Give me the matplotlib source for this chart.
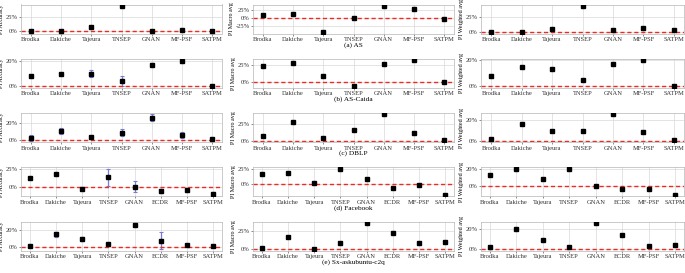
import numpy as np
import matplotlib
matplotlib.use("Agg")
import matplotlib.pyplot as plt
from matplotlib.ticker import MultipleLocator, FuncFormatter

plt.rcParams['font.family'] = ['Liberation Serif', 'DejaVu Serif']

# methods per dataset
cats7 = ["Brodka", "Dakiche", "Tajeura", "TNSEP", "GNAN", "MF-PSF", "SATPM"]
cats8 = ["Brodka", "Dakiche", "Tajeura", "TNSEP", "GNAN", "ECDR", "MF-PSF", "SATPM"]
datasets = ["(a) AS", "(b) AS-Caida", "(c) DBLP", "(d) Facebook", "(e) Sx-askubuntu-c2q"]
metrics = ["PI Accuracy", "PI Macro avg", "PI Weighted avg"]

# (a) AS
as_acc = [0.0, 0.5, 7.6, 45.0, 1.0, 2.0, 0.0]
as_acc_err = [0.5, 0.5, 0.8, 0.8, 0.5, 0.8, 1.5]
as_macro = [8.6, 10.6, -44.0, 0.0, 36.5, 26.0, -3.0]
as_weighted = [0.0, -0.5, 5.0, 45.0, 2.8, 7.0, 4.0]

# (b) AS-Caida
caida_acc = [8.0, 9.5, 10.0, 4.0, 17.0, 19.5, 0.3]
caida_acc_err = [1.0, 1.0, 2.5, 4.0, 1.0, 1.0, 0.4]
caida_macro = [23.0, 28.0, 9.2, -5.7, 26.0, 32.0, 0.5]
caida_weighted = [7.8, 15.0, 13.0, 5.0, 17.2, 19.8, 0.5]

# (c) DBLP
dblp_acc = [2.0, 10.6, 3.0, 8.0, 26.0, 5.5, 0.5]
dblp_acc_err = [3.5, 3.5, 0.5, 4.0, 4.0, 4.0, 0.3]
dblp_macro = [7.5, 27.6, 4.4, 15.4, 38.6, 11.8, 1.0]
dblp_weighted = [1.8, 16.5, 9.7, 9.7, 25.3, 8.8, 0.5]

# (d) Facebook
fb_acc = [12.3, 18.8, -2.6, 13.6, 0.5, -5.7, -4.0, -9.6]
fb_acc_err = [0.5, 0.5, 2.0, 12.0, 8.0, 2.5, 3.0, 2.0]
fb_macro = [16.8, 18.4, 2.0, 25.6, 8.7, -7.0, -2.0, -18.0]
fb_weighted = [13.0, 20.8, 8.0, 20.3, 0.0, -4.0, -3.5, -11.5]

# (e) Sx-askubuntu-c2q
sx_acc = [1.5, 15.0, 9.0, 3.0, 26.0, 7.0, 2.0, 1.0]
sx_acc_err = [0.8, 3.0, 2.0, 1.0, 2.0, 10.0, 1.0, 1.0]
sx_macro = [2.0, 16.0, 0.5, 8.0, 35.0, 22.0, 9.0, 10.0]
sx_weighted = [2.0, 20.0, 9.0, 2.0, 26.0, 14.0, 3.0, 4.0]

rows = [
    (cats7, as_acc, as_acc_err, as_macro, as_weighted, [25, 25, 25]),
    (cats7, caida_acc, caida_acc_err, caida_macro, caida_weighted, [20, 25, 20]),
    (cats7, dblp_acc, dblp_acc_err, dblp_macro, dblp_weighted, [20, 25, 20]),
    (cats8, fb_acc, fb_acc_err, fb_macro, fb_weighted, [25, 25, 20]),
    (cats8, sx_acc, sx_acc_err, sx_macro, sx_weighted, [20, 25, 20]),
]

W, H = 685, 273
fig = plt.figure(figsize=(W / 100, H / 100), dpi=100)

col_px = [(21, 222), (253, 454), (481, 684)]
pct = FuncFormatter(lambda v, p: "%d%%" % round(v))

for r, (cats, acc, acc_err, macro, weighted, steps) in enumerate(rows):
    top = 4.5 + 54.3 * r
    bot = 33.5 + 54.3 * r
    x = np.arange(len(cats))
    series = [(acc, acc_err), (macro, None), (weighted, None)]
    for c, (vals, err) in enumerate(series):
        x0, x1 = col_px[c]
        ax = fig.add_axes([x0 / W, 1 - bot / H, (x1 - x0) / W, (bot - top) / H])
        if err is not None:
            ax.errorbar(x, vals, yerr=err, fmt="none", ecolor="#7a7ad8",
                         elinewidth=0.9, capsize=1.6, capthick=0.8, zorder=2)
        ax.axhline(0, color="#ee2a22", lw=1.0, ls=(0, (3, 2)), zorder=2.5)
        ax.plot(x, vals, "s", color="black", ms=2.2, zorder=3)
        ax.set_xlim(-0.33, len(cats) - 0.67)
        ax.margins(y=0.05)
        ax.set_xticks(x)
        ax.set_xticklabels(cats)
        ax.yaxis.set_major_locator(MultipleLocator(steps[c]))
        ax.yaxis.set_major_formatter(pct)
        ax.tick_params(labelsize=4.7, length=1.5, width=0.4, pad=1, colors="#333333")
        ax.grid(True, color="#d9d9d9", lw=0.5)
        ax.set_axisbelow(True)
        for s in ax.spines.values():
            s.set_color("#b5b5b5")
            s.set_linewidth(0.5)
        ax.set_ylabel(metrics[c], fontsize=4.3, labelpad=1)
        if c == 1:
            ax.text(0.5, -0.39, datasets[r], transform=ax.transAxes,
                    ha="center", va="center", fontsize=5.2)

fig.savefig("out.png", dpi=100)
